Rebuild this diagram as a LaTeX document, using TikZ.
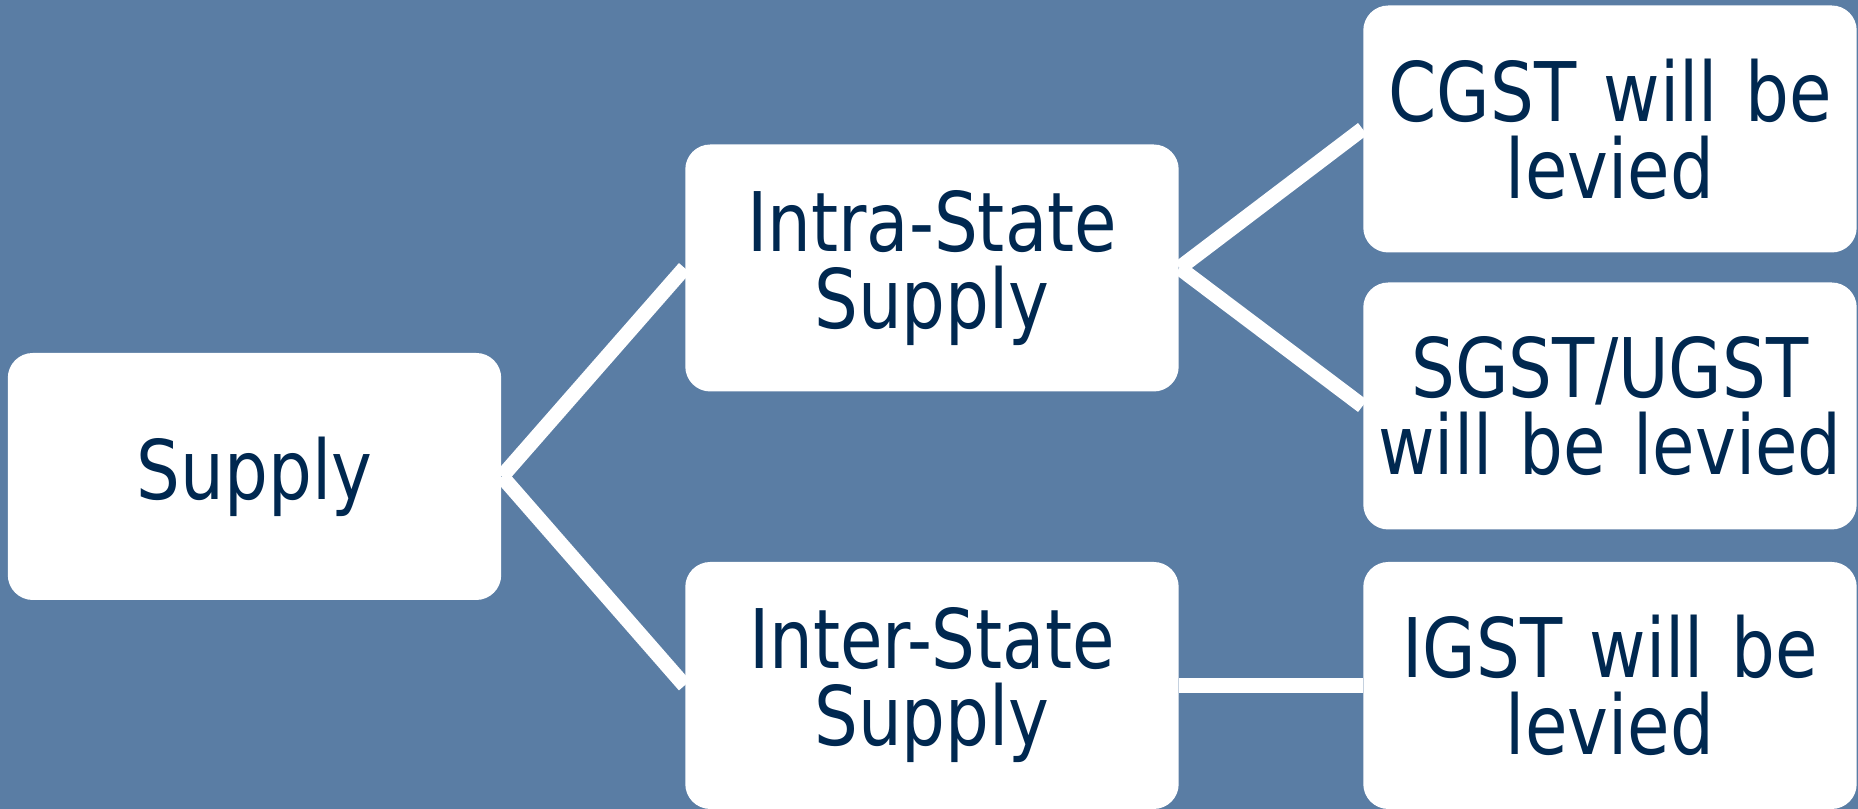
\documentclass[tikz,border=0pt]{standalone}
\usepackage{fontspec}
\usepackage{tikz}
\usetikzlibrary{positioning}
\newfontfamily\boxfont[FakeStretch=0.84]{DejaVu Sans}
\definecolor{gstbg}{RGB}{90,125,164}
\definecolor{gstnavy}{RGB}{0,40,80}
\tikzstyle{gstbox} = [rectangle, rounded corners=0.25cm, fill=white, draw=none, minimum width=4.9cm, minimum height=2.47cm, text width=4.7cm, align=center, text=gstnavy, font=\boxfont\fontsize{23.4pt}{21.9pt}\selectfont]
\tikzstyle{link} = [white, line width=0.15cm]

\begin{document}
\begin{tikzpicture}
% Background
\fill[gstbg] (0,0) rectangle (18.58,8.09);
\useasboundingbox (0,0) rectangle (18.58,8.09);

% Boxes
\node[gstbox] (supply) at (2.545,3.325) {Supply};
\node[gstbox] (intra) at (9.32,5.41) {Intra-State\\Supply};
\node[gstbox] (inter) at (9.32,1.235) {Inter-State\\Supply};
\node[gstbox] (cgst) at (16.10,6.80) {CGST will be\\levied};
\node[gstbox] (sgst) at (16.10,4.03) {SGST/UGST\\will be levied};
\node[gstbox] (igst) at (16.10,1.235) {IGST will be\\levied};

% Links
\draw[link] (supply.east) -- (intra.west);
\draw[link] (supply.east) -- (inter.west);
\draw[link] (intra.east) -- (cgst.west);
\draw[link] (intra.east) -- (sgst.west);
\draw[link] (inter.east) -- (igst.west);
\end{tikzpicture}
\end{document}
